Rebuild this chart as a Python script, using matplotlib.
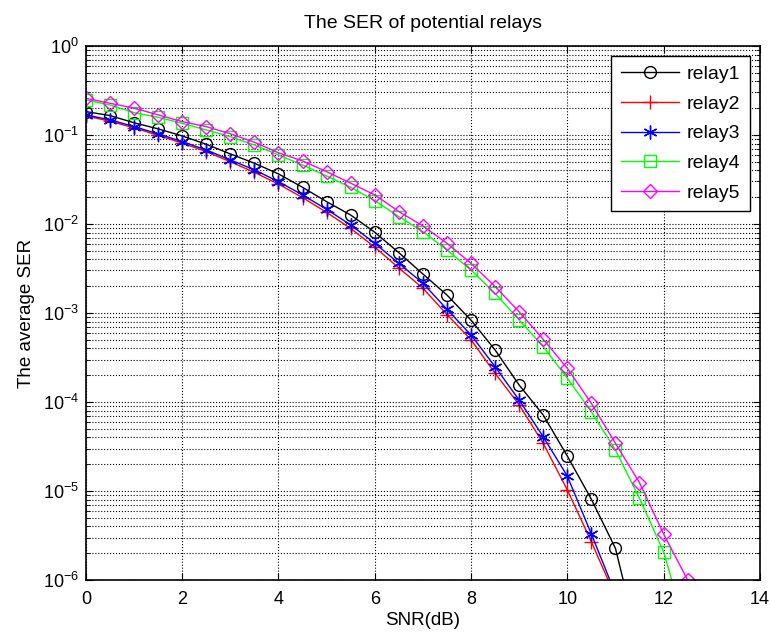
import numpy as np
import matplotlib
matplotlib.use("Agg")
import matplotlib.pyplot as plt
from matplotlib.ticker import LogLocator, NullFormatter, MultipleLocator

plt.rcParams['font.family'] = ['Liberation Sans', 'DejaVu Sans']
plt.rcParams['mathtext.default'] = 'regular'
plt.rcParams['font.size'] = 13

# SNR grid (dB) and averaged SER
snr = np.arange(0, 13.5, 0.5)

relay1 = [0.183, 0.165, 0.137, 0.117, 0.0975, 0.0785, 0.0612, 0.0481, 0.0365,
          0.0258, 0.0178, 0.0126, 0.00807, 0.00476, 0.00274, 0.00159, 8.3e-4,
          3.84e-4, 1.55e-4, 7.14e-5, 2.47e-5, 8.07e-6, 2.27e-6, 1.8e-7]
relay2 = [0.163, 0.143, 0.120, 0.099, 0.081, 0.065, 0.050, 0.038, 0.028,
          0.0198, 0.0135, 0.0089, 0.0055, 0.0032, 0.0019, 9.6e-4, 5.0e-4,
          2.1e-4, 9.3e-5, 3.43e-5, 1.03e-5, 2.69e-6, 6.5e-7]
relay3 = [0.168, 0.148, 0.124, 0.103, 0.0841, 0.0678, 0.0524, 0.0405, 0.0299,
          0.0212, 0.0146, 0.00975, 0.00607, 0.00361, 0.00216, 0.0011, 5.66e-4,
          2.49e-4, 1.05e-4, 4.07e-5, 1.47e-5, 3.29e-6, 7.0e-7]
relay4 = [0.247, 0.217, 0.178, 0.158, 0.135, 0.114, 0.0957, 0.0772, 0.0596,
          0.046, 0.0346, 0.0258, 0.0183, 0.0121, 0.0082, 0.0051, 0.00304,
          0.00166, 8.34e-4, 4.19e-4, 1.85e-4, 7.78e-5, 2.89e-5, 8.28e-6,
          2.08e-6, 2.4e-7]
relay5 = [0.258, 0.227, 0.200, 0.168, 0.141, 0.124, 0.103, 0.0828, 0.063,
          0.051, 0.0387, 0.0287, 0.0212, 0.0138, 0.0095, 0.00607, 0.00361,
          0.00198, 0.00103, 5.06e-4, 2.39e-4, 9.66e-5, 3.43e-5, 1.24e-5,
          3.29e-6, 1.0e-6, 2.0e-7]

# MATLAB-like asterisk: 6-armed star outline
asterisk = (6, 2, 0)

series = [
    ("relay1", relay1, 'k', 'o', 8.5),
    ("relay2", relay2, 'r', '+', 10),
    ("relay3", relay3, 'b', asterisk, 10),
    ("relay4", relay4, '#00ff00', 's', 8),
    ("relay5", relay5, '#ff00ff', 'D', 7),
]

fig = plt.figure(figsize=(7.71, 6.32), dpi=100)
ax = fig.add_axes([0.1115, 0.0823, 0.874, 0.845])

for name, vals, col, mk, ms in series:
    ax.semilogy(snr[:len(vals)], vals, color=col, marker=mk, markersize=ms,
                markerfacecolor='none', markeredgecolor=col, linewidth=1.0,
                markeredgewidth=1.0, label=name)

ax.set_xlim(0, 14)
ax.set_ylim(1e-6, 1)
ax.xaxis.set_major_locator(MultipleLocator(2))
ax.yaxis.set_major_locator(LogLocator(base=10, numticks=10))
ax.yaxis.set_minor_locator(LogLocator(base=10, subs=np.arange(2, 10), numticks=10))
ax.yaxis.set_minor_formatter(NullFormatter())

ax.grid(True, which='major', color='k', linestyle=':', linewidth=0.8)
ax.grid(True, which='minor', axis='y', color='k', linestyle=':', linewidth=0.8)
ax.tick_params(which='both', direction='in', top=True, right=True, labelsize=13)
ax.tick_params(which='major', length=5)
ax.tick_params(which='minor', length=3)
ax.tick_params(axis='x', which='major', pad=8)
ax.tick_params(axis='y', which='major', pad=5)
for s in ax.spines.values():
    s.set_linewidth(1.2)

ax.set_title("The SER of potential relays", fontsize=14, pad=13)
ax.set_xlabel("SNR(dB)", fontsize=13.5, labelpad=3)
ax.set_ylabel("The average SER", fontsize=13.5, labelpad=6)

leg = ax.legend(loc='upper right', fontsize=14, handlelength=3.0, fancybox=False,
                framealpha=1, edgecolor='k', borderaxespad=0.5, labelspacing=0.62,
                handletextpad=0.4, borderpad=0.5)
leg.get_frame().set_linewidth(1.0)

fig.savefig("out.png", dpi=100)
